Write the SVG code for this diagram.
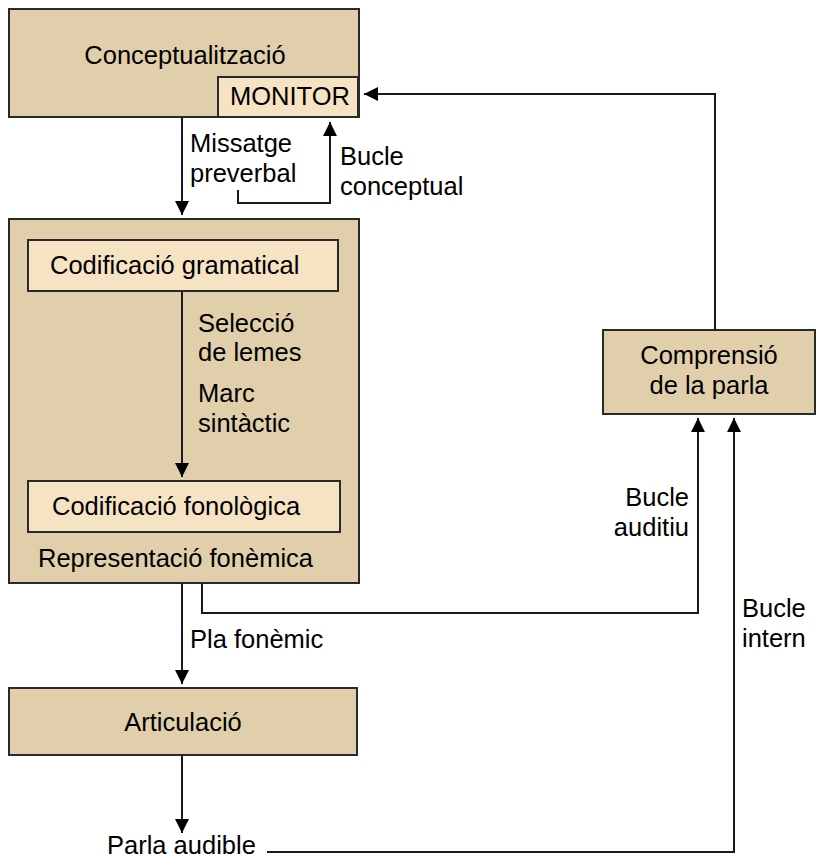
<svg xmlns="http://www.w3.org/2000/svg" width="816" height="859" viewBox="0 0 816 859">
<defs>
<style>
.box{fill:#e1cfab;stroke:#2a2a2a;stroke-width:2}
.inner{fill:#f6e3c3;stroke:#2a2a2a;stroke-width:2}
text{font-family:"Liberation Sans",Arial,sans-serif;font-size:25.5px;fill:#000}
.c{text-anchor:middle}
.e{text-anchor:end}
.ln{fill:none;stroke:#1a1a1a;stroke-width:2}
</style>
<marker id="ah" viewBox="0 0 14 14" refX="14" refY="7" markerWidth="14" markerHeight="14" markerUnits="userSpaceOnUse" orient="auto">
<path d="M0,0 L14,7 L0,14 Z" fill="#000"/>
</marker>
</defs>
<rect width="816" height="859" fill="#fff"/>
<g id="conceptualitzacio">
<rect class="box" x="9" y="9" width="350" height="108"/>
<text class="c" x="185" y="64">Conceptualització</text>
</g>
<g id="monitor">
<rect class="inner" x="218" y="77" width="140" height="40"/>
<text x="230" y="105">MONITOR</text>
</g>
<g id="formulacio">
<rect class="box" x="9" y="219" width="350" height="364"/>
<text x="38" y="567">Representació fonèmica</text>
</g>
<g id="codificacio-gramatical">
<rect class="inner" x="28" y="240" width="310" height="51"/>
<text x="50" y="274">Codificació gramatical</text>
</g>
<g id="codificacio-fonologica">
<rect class="inner" x="28" y="481" width="312" height="51"/>
<text x="52" y="515">Codificació fonològica</text>
</g>
<g id="articulacio">
<rect class="box" x="9" y="688" width="348" height="67"/>
<text class="c" x="183" y="731">Articulació</text>
</g>
<g id="comprensio">
<rect class="box" x="603" y="330" width="212" height="84"/>
<text class="c" x="709" y="364">Comprensió</text>
<text class="c" x="709" y="394">de la parla</text>
</g>
<g id="parla-audible">
<text x="107" y="854">Parla audible</text>
</g>
<g id="connectors">
<line class="ln" x1="182" y1="117" x2="182" y2="215" marker-end="url(#ah)"/>
<polyline class="ln" points="238,190 238,203 330,203 330,122" marker-end="url(#ah)"/>
<polyline class="ln" points="715,330 715,94 364,94" marker-end="url(#ah)"/>
<line class="ln" x1="182" y1="291" x2="182" y2="477" marker-end="url(#ah)"/>
<line class="ln" x1="182" y1="583" x2="182" y2="684" marker-end="url(#ah)"/>
<line class="ln" x1="182" y1="755" x2="182" y2="833" marker-end="url(#ah)"/>
<polyline class="ln" points="202,583 202,613 698,613 698,418" marker-end="url(#ah)"/>
<polyline class="ln" points="267,852 734,852 734,418" marker-end="url(#ah)"/>
<text x="190" y="152">Missatge</text>
<text x="190" y="182">preverbal</text>
<text x="340" y="165">Bucle</text>
<text x="340" y="195">conceptual</text>
<text x="198" y="332">Selecció</text>
<text x="198" y="361">de lemes</text>
<text x="198" y="402">Marc</text>
<text x="198" y="432">sintàctic</text>
<text x="190" y="648">Pla fonèmic</text>
<text class="e" x="689" y="506">Bucle</text>
<text class="e" x="689" y="536">auditiu</text>
<text x="742" y="617">Bucle</text>
<text x="742" y="647">intern</text>
</g>
</svg>
